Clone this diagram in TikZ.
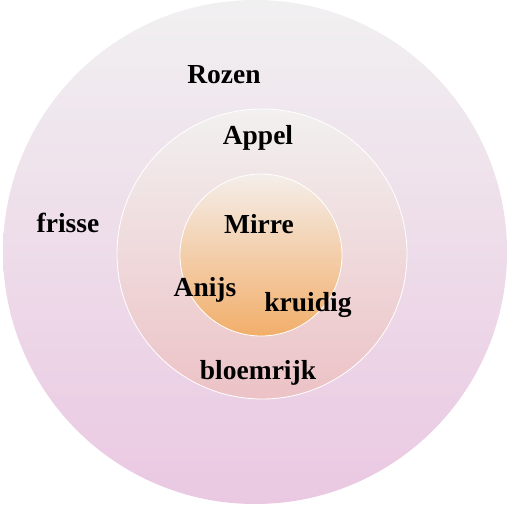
\documentclass[tikz,border=0pt]{standalone}
\usepackage{fontspec}
\setmainfont{Liberation Serif}
\usepackage{tikz}
\usetikzlibrary{positioning}

\definecolor{outertop}{RGB}{241,240,241}
\definecolor{outerbot}{RGB}{234,200,226}
\definecolor{midtop}{RGB}{242,240,240}
\definecolor{midbot}{RGB}{236,194,198}
\definecolor{innertop}{RGB}{244,238,234}
\definecolor{innerbot}{RGB}{242,174,106}

\begin{document}
\begin{tikzpicture}[x=1pt,y=1pt,
    ring/.style={circle,inner sep=0pt},
    word/.style={font=\fontsize{27.5}{30}\selectfont\bfseries,inner sep=0pt,text=black}]

  \useasboundingbox (0,0) rectangle (509,-504);

  \node[ring,minimum size=504,top color=outertop,bottom color=outerbot] (outer) at (255,-252) {};
  \node[ring,minimum size=290,top color=midtop,bottom color=midbot,draw=white,line width=0.8pt] (middle) at (262,-254) {};
  \node[ring,minimum size=162,top color=innertop,bottom color=innerbot,draw=white,line width=0.8pt] (inner) at (261,-255) {};

  \node[word] (rozen)  at (224,-75)  {Rozen};
  \node[word] (appel)  at (258,-138) {Appel};
  \node[word] (frisse) at (68,-223)  {frisse};
  \node[word] (mirre)  at (259,-224) {Mirre};
  \node[word] (anijs)  at (205,-290) {Anijs};
  \node[word] (kruid)  at (308,-305) {kruidig};
  \node[word] (bloem)  at (258,-373) {bloemrijk};
\end{tikzpicture}
\end{document}
